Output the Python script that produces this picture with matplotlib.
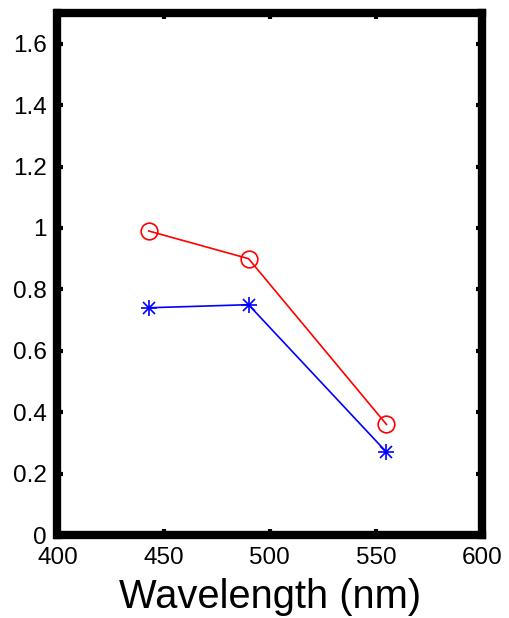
import matplotlib
matplotlib.use("Agg")
import matplotlib.pyplot as plt

plt.rcParams['font.family'] = ['Liberation Sans', 'DejaVu Sans']

wavelength = [443, 490, 555]
red_series = [0.99, 0.90, 0.36]
blue_series = [0.74, 0.75, 0.27]
xticks = [400, 450, 500, 550, 600]
yticks = [0, 0.2, 0.4, 0.6, 0.8, 1, 1.2, 1.4, 1.6]
ytick_labels = ['0', '0.2', '0.4', '0.6', '0.8', '1', '1.2', '1.4', '1.6']

fig = plt.figure(figsize=(5.10, 6.18), dpi=100)
ax = fig.add_axes([57.5 / 510, 1 - 535 / 618, (482 - 57.5) / 510, (535 - 13) / 618])

ax.plot(wavelength, red_series, color='red', lw=1.2, marker='o', markersize=12,
        markerfacecolor='none', markeredgecolor='red', markeredgewidth=1.2)
ax.plot(wavelength, blue_series, color='blue', lw=1.2, marker='+', markersize=11,
        markeredgewidth=1.2)
ax.plot(wavelength, blue_series, color='blue', lw=0, marker='x', markersize=8,
        markeredgewidth=1.2)

ax.set_xlim(400, 600)
ax.set_ylim(0, 1.7)
ax.set_xticks(xticks)
ax.set_xticklabels([str(t) for t in xticks])
ax.set_yticks(yticks)
ax.set_yticklabels(ytick_labels)
ax.tick_params(direction='in', length=4.5, width=3, labelsize=17.5, top=True, right=True)
ax.tick_params(axis='y', pad=8)
ax.tick_params(axis='x', pad=9)
for s in ax.spines.values():
    s.set_linewidth(6)
ax.set_xlabel('Wavelength (nm)', fontsize=28.7, labelpad=6)

fig.savefig('out.png', dpi=100)
